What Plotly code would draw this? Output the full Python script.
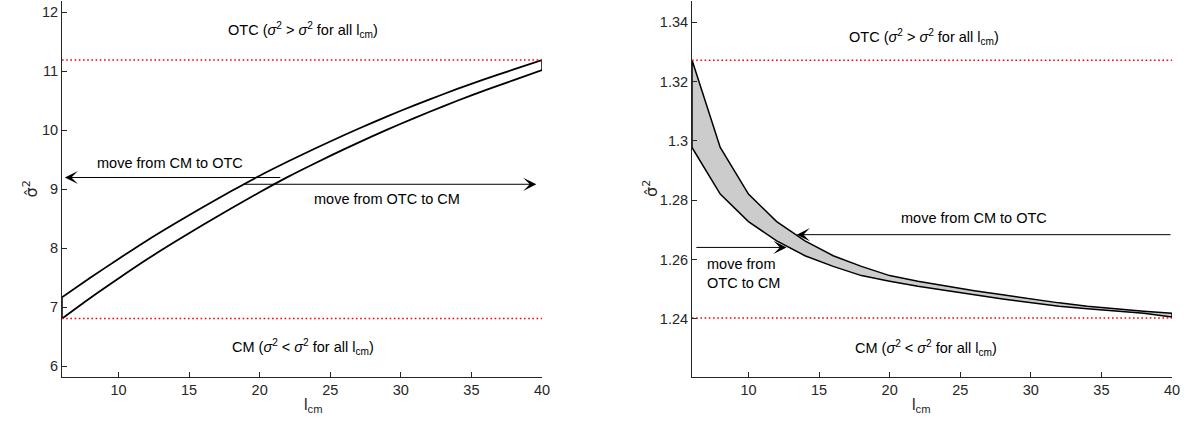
import plotly.graph_objects as go

# ---------------- data ----------------
l_cm = [6, 8, 10, 12, 14, 16, 18, 20, 22, 24, 26, 28, 30, 32, 34, 36, 38, 40]

left_upper = [7.17, 7.50, 7.82, 8.13, 8.42, 8.70, 8.97, 9.23, 9.47, 9.70,
              9.92, 10.13, 10.33, 10.52, 10.70, 10.87, 11.03, 11.19]
left_lower = [6.81, 7.16, 7.49, 7.81, 8.11, 8.40, 8.68, 8.95, 9.21, 9.45,
              9.68, 9.90, 10.11, 10.31, 10.50, 10.68, 10.85, 11.02]
left_otc_level = 11.19
left_cm_level = 6.81

right_upper = [1.3273, 1.2978, 1.2821, 1.2728, 1.2663, 1.2613, 1.2577, 1.2546, 1.2527,
               1.2510, 1.2495, 1.2481, 1.2467, 1.2454, 1.2443, 1.2434, 1.2426, 1.2419]
right_lower = [1.2978, 1.2821, 1.2728, 1.2663, 1.2613, 1.2577, 1.2546, 1.2527, 1.2510,
               1.2495, 1.2481, 1.2467, 1.2454, 1.2443, 1.2434, 1.2426, 1.2419, 1.2406]
right_otc_level = 1.3272
right_cm_level = 1.2403

left_yticks = [6, 7, 8, 9, 10, 11, 12]
right_yticks = [1.24, 1.26, 1.28, 1.30, 1.32, 1.34]
right_yticklabels = ["1.24", "1.26", "1.28", "1.3", "1.32", "1.34"]
xticks = [10, 15, 20, 25, 30, 35, 40]

otc_text = "OTC (<i>σ</i><sup>2</sup> &gt; <i>σ</i><sup>2</sup> for all l<sub>cm</sub>)"
cm_text = "CM (<i>σ</i><sup>2</sup> &lt; <i>σ</i><sup>2</sup> for all l<sub>cm</sub>)"
ytitle_text = "σ̂<sup>2</sup>"
xtitle_text = "l<sub>cm</sub>"

# ---------------- figure ----------------
W, H = 1187, 434
FONT = "Liberation Sans, Arial, Helvetica, sans-serif"
FS = 14.5
AX = "#262626"

fig = go.Figure()

# left band: two smooth boundary curves plus closing end segments
for ys in (left_upper, left_lower):
    fig.add_trace(go.Scatter(
        x=l_cm, y=ys, mode="lines",
        line=dict(color="black", width=1.8, shape="spline", smoothing=0.8),
        xaxis="x", yaxis="y", showlegend=False))
for i in (0, -1):
    fig.add_trace(go.Scatter(
        x=[l_cm[i], l_cm[i]], y=[left_lower[i], left_upper[i]], mode="lines",
        line=dict(color="black", width=1.5), xaxis="x", yaxis="y", showlegend=False))

# right band (gray polygon)
band_x = l_cm + l_cm[::-1] + [l_cm[0]]
fig.add_trace(go.Scatter(
    x=band_x, y=right_upper + right_lower[::-1] + [right_upper[0]],
    mode="lines", fill="toself", fillcolor="#cccccc",
    line=dict(color="black", width=1.5), xaxis="x2", yaxis="y2", showlegend=False))

for lvl, xa, ya in [(left_otc_level, "x", "y"), (left_cm_level, "x", "y"),
                    (right_otc_level, "x2", "y2"), (right_cm_level, "x2", "y2")]:
    fig.add_trace(go.Scatter(
        x=[l_cm[0], l_cm[-1]], y=[lvl, lvl], mode="lines",
        line=dict(color="red", width=1.6, dash="1.6px,2.6px"),
        xaxis=xa, yaxis=ya, showlegend=False))

axis_common = dict(showline=True, linecolor=AX, linewidth=1, ticks="inside",
                   ticklen=5, tickcolor=AX, showgrid=False, zeroline=False,
                   tickfont=dict(family=FONT, size=FS, color=AX), automargin=False)

fig.update_layout(
    width=W, height=H,
    margin=dict(l=0, r=0, t=1, b=57),
    paper_bgcolor="white", plot_bgcolor="white",
    font=dict(family=FONT, size=FS, color="black"),
    xaxis=dict(domain=[62 / W, 542 / W], range=[6, 40], tickvals=xticks,
               anchor="y", **axis_common),
    yaxis=dict(domain=[0, 1], range=[5.82, 12.19], tickvals=left_yticks,
               anchor="x", **axis_common),
    xaxis2=dict(domain=[692 / W, 1172 / W], range=[6, 40], tickvals=xticks,
                anchor="y2", **axis_common),
    yaxis2=dict(domain=[0, 1], range=[1.2204, 1.3472], tickvals=right_yticks,
                ticktext=right_yticklabels, anchor="x2", **axis_common),
)

ann = []
tf = dict(family=FONT, size=FS, color="black")

ann += [
    dict(x=23.1, y=11.70, xref="x", yref="y", text=otc_text, showarrow=False, font=tf),
    dict(x=23.1, y=6.32, xref="x", yref="y", text=cm_text, showarrow=False, font=tf),
    dict(x=22.4, y=1.3352, xref="x2", yref="y2", text=otc_text, showarrow=False, font=tf),
    dict(x=22.6, y=1.2302, xref="x2", yref="y2", text=cm_text, showarrow=False, font=tf),
]

ann += [
    dict(x=13.64, y=9.446, xref="x", yref="y", text="move from CM to OTC", showarrow=False, font=tf),
    dict(x=29.0, y=8.836, xref="x", yref="y", text="move from OTC to CM", showarrow=False, font=tf),
    dict(x=25.95, y=1.2739, xref="x2", yref="y2", text="move from CM to OTC", showarrow=False, font=tf),
    dict(x=6.93, y=1.2553, xref="x2", yref="y2", text="move from<br>OTC to CM", showarrow=False,
         font=tf, xanchor="left", align="left"),
]

arrow_style = dict(showarrow=True, text="", arrowhead=3, arrowsize=2.2, arrowwidth=1,
                   arrowcolor="black", standoff=0, startstandoff=0)
ann += [
    dict(x=6.2, y=9.20, ax=21.57, ay=9.20, xref="x", yref="y", axref="x", ayref="y", **arrow_style),
    dict(x=39.6, y=9.085, ax=18.72, ay=9.085, xref="x", yref="y", axref="x", ayref="y", **arrow_style),
    dict(x=13.42, y=1.2684, ax=40, ay=1.2684, xref="x2", yref="y2", axref="x2", ayref="y2", **arrow_style),
    dict(x=12.7, y=1.2641, ax=6.2, ay=1.2641, xref="x2", yref="y2", axref="x2", ayref="y2", **arrow_style),
]

TF = dict(family="DejaVu Sans, Liberation Sans, sans-serif", size=16, color=AX)
ann += [
    dict(x=302 / W, y=-(417 - 377) / 376, xref="paper", yref="paper", text=xtitle_text,
         showarrow=False, font=dict(family=FONT, size=16, color=AX)),
    dict(x=932 / W, y=-(417 - 377) / 376, xref="paper", yref="paper", text=xtitle_text,
         showarrow=False, font=dict(family=FONT, size=16, color=AX)),
    dict(x=18 / W, y=(377 - 189) / 376, xref="paper", yref="paper", text=ytitle_text,
         textangle=-90, showarrow=False, font=TF),
    dict(x=650 / W, y=(377 - 189) / 376, xref="paper", yref="paper", text=ytitle_text,
         textangle=-90, showarrow=False, font=TF),
]

fig.update_layout(annotations=ann)
fig.write_html("out.html", config={"displayModeBar": False},
               post_script="document.body.style.margin='0px';document.body.style.overflow='hidden';")
